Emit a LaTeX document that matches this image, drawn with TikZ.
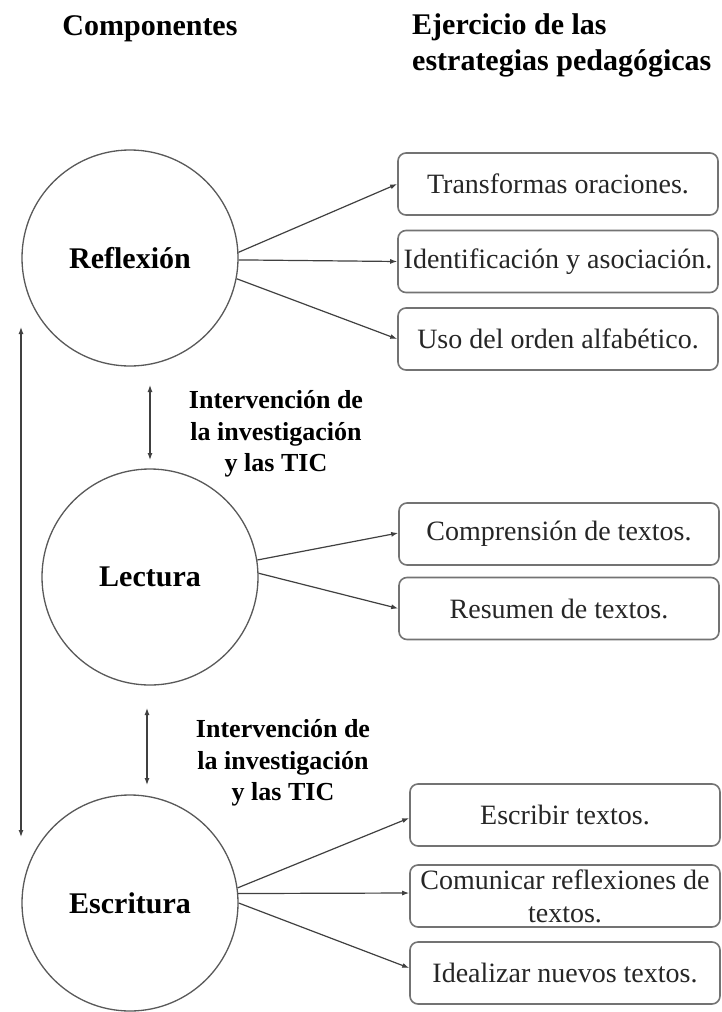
\documentclass[tikz,border=0pt]{standalone}
\usepackage{fontspec}
\setmainfont{Liberation Serif}
\usetikzlibrary{arrows.meta}
\begin{document}
\begin{tikzpicture}[x=1pt,y=-1pt,
  comp/.style={circle,draw=black!65,line width=1.3pt,minimum size=216pt,inner sep=0pt,font=\fontsize{30}{36}\selectfont\bfseries},
  act/.style={draw=black!55,line width=1.6pt,rounded corners=8pt,minimum width=320pt,minimum height=62pt,inner sep=2pt,align=center,font=\fontsize{28}{33}\selectfont,text=black!85},
  actw/.style={act,minimum width=310pt},
  head/.style={font=\fontsize{30}{36}\selectfont\bfseries,align=left,inner sep=0pt},
  note/.style={font=\fontsize{26}{31.5}\selectfont\bfseries,align=center,inner sep=0pt},
  link/.style={draw=black!75,line width=1.2pt,-{Latex[length=7pt,width=5pt]}},
  both/.style={draw=black!75,line width=1.2pt,{Latex[length=7pt,width=5pt]}-{Latex[length=7pt,width=5pt]}}]
\useasboundingbox (0,0) rectangle (722,1012);
\fill[white] (0,0) rectangle (722,1012);

% headers
\node[head,anchor=base] (h1) at (150,35) {Componentes};
\node[head,anchor=north west] (h2) at (412,13) {Ejercicio de las\\estrategias pedagógicas};

% components
\node[comp] (R) at (130,258) {Reflexión};
\node[comp] (L) at (150,577) {Lectura};
\node[comp] (E) at (130,903) {Escritura};

% activities
\node[act] (R1) at (558,184) {Transformas oraciones.};
\node[act] (R2) at (558,261.5) {Identificación y asociación.};
\node[act] (R3) at (558,339) {Uso del orden alfabético.};
\node[act] (L1) at (559,534) {Comprensión de textos.};
\node[act] (L2) at (559,608.5) {Resumen de textos.};
\node[actw] (E1) at (565,815) {Escribir textos.};
\node[actw] (E2) at (565,896) {Comunicar reflexiones de\\textos.};
\node[actw] (E3) at (565,973) {Idealizar nuevos textos.};

% notes
\node[note] (n1) at (276,434) {Intervención de\\la investigación\\y las TIC};
\node[note] (n2) at (283,763) {Intervención de\\la investigación\\y las TIC};

% connectors
\draw[link] (R.3) -- (R1.west);
\draw[link] (R.-1) -- (R2.west);
\draw[link] (R.-11.5) -- (R3.west);
\draw[link] (L.9) -- ([yshift=1pt]L1.west);
\draw[link] (L.2) -- (L2.west);
\draw[link] (E.8) -- ([yshift=-3pt]E1.west);
\draw[link] (E.5) -- ([yshift=3pt]E2.west);
\draw[link] (E.0) -- ([yshift=5pt]E3.west);

% vertical double arrows
\coordinate (lt) at (21,327);
\coordinate (lb) at (21,837);
\draw[both] (lt) -- (lb);
\coordinate (v1t) at (150,385);
\coordinate (v1b) at (150,460);
\draw[both] (v1t) -- (v1b);
\coordinate (v2t) at (147,708);
\coordinate (v2b) at (147,785);
\draw[both] (v2t) -- (v2b);
\end{tikzpicture}
\end{document}
